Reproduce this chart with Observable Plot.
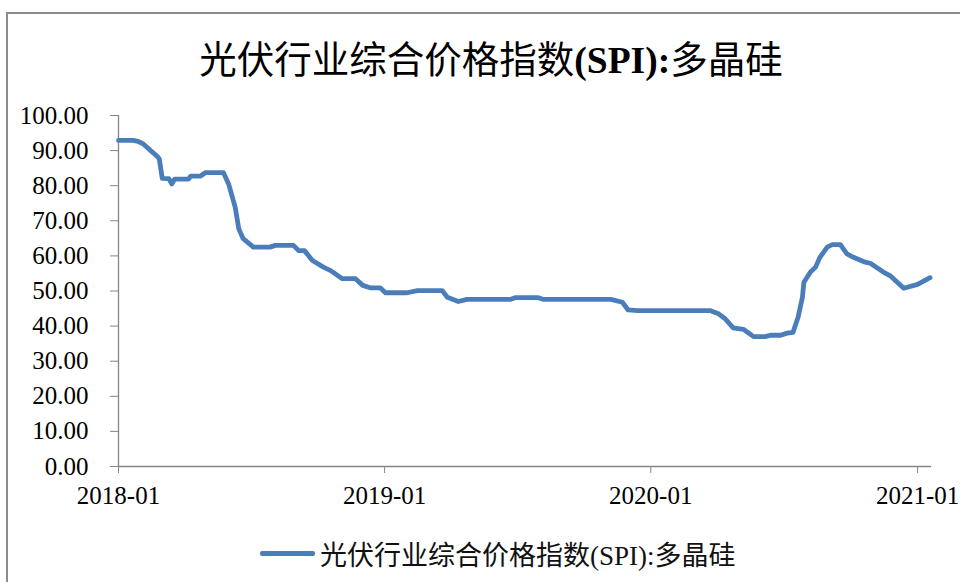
<!DOCTYPE html>
<html>
<head>
<meta charset="utf-8">
<script src="https://cdn.jsdelivr.net/npm/d3@7"></script>
<script src="https://cdn.jsdelivr.net/npm/@observablehq/plot@0.6"></script>
<style>
  html, body { margin: 0; padding: 0; background: #fff; }
  body { width: 960px; height: 582px; overflow: hidden; position: relative; }
  #frame { position: absolute; left: 6px; top: 12px; width: 1000px; height: 620px; border: 2px solid #8c8c8c; box-sizing: border-box; }
  #title { position: absolute; left: 0; top: 32px; width: 982px; text-align: center; font-family: "Noto Sans CJK SC", sans-serif; font-size: 37.5px; line-height: 50px; color: #000; }
  #title .lat { font-family: "Liberation Serif", serif; font-weight: bold; }
  #chart { position: absolute; left: 0; top: 100px; }
  #legend { position: absolute; left: 260px; top: 534px; height: 38px; display: flex; align-items: center; font-family: "Noto Sans CJK SC", sans-serif; font-size: 27px; color: #111; }
  #legend .sw { width: 55px; height: 5px; background: #4a7ebb; border-radius: 2px; margin-right: 5px; }
  #legend .lat { font-family: "Liberation Serif", serif; }
</style>
</head>
<body>
<div id="frame"></div>
<div id="title">光伏行业综合价格指数<span class="lat">(SPI):</span>多晶硅</div>
<div id="chart"></div>
<div id="legend"><div class="sw"></div><span>光伏行业综合价格指数<span class="lat">(SPI):</span>多晶硅</span></div>
<script>
const dates = ["2018-01-01","2018-01-21","2018-01-28","2018-02-04","2018-02-14","2018-02-23","2018-02-26","2018-03-02","2018-03-11","2018-03-15","2018-03-19","2018-04-07","2018-04-10","2018-04-23","2018-04-30","2018-05-25","2018-06-01","2018-06-10","2018-06-15","2018-06-21","2018-07-05","2018-07-28","2018-08-04","2018-08-29","2018-09-05","2018-09-13","2018-09-24","2018-10-09","2018-10-19","2018-11-04","2018-11-22","2018-12-02","2018-12-12","2018-12-26","2019-01-02","2019-02-01","2019-02-15","2019-03-21","2019-03-28","2019-04-12","2019-04-24","2019-06-22","2019-06-29","2019-07-31","2019-08-07","2019-11-07","2019-11-23","2019-12-01","2019-12-14","2020-03-23","2020-04-03","2020-04-12","2020-04-23","2020-05-07","2020-05-21","2020-06-06","2020-06-13","2020-06-27","2020-07-06","2020-07-14","2020-07-21","2020-07-27","2020-07-29","2020-08-07","2020-08-14","2020-08-20","2020-08-30","2020-09-06","2020-09-17","2020-09-26","2020-10-05","2020-10-21","2020-10-28","2020-11-15","2020-11-24","2020-12-13","2021-01-01","2021-01-18"];
const values = [92.9,92.9,92.6,91.9,90.0,88.4,87.6,82.1,82.0,80.5,81.9,81.9,82.7,82.7,83.7,83.7,80.5,73.9,67.7,64.9,62.5,62.5,63.0,63.0,61.5,61.5,58.7,56.8,55.8,53.5,53.5,51.6,50.9,50.9,49.5,49.5,50.1,50.1,48.2,47.0,47.6,47.6,48.1,48.1,47.6,47.6,46.8,44.6,44.4,44.4,43.5,42.1,39.5,39.1,37.0,37.0,37.4,37.4,38.0,38.2,42.5,48.2,52.5,55.4,56.8,59.6,62.5,63.2,63.2,60.6,59.6,58.2,57.9,55.4,54.4,50.8,51.9,53.8];
const yTicks = [0,10,20,30,40,50,60,70,80,90,100];
const xTickLabels = ["2018-01","2019-01","2020-01","2021-01"];
const xDomainLabels = ["2018-01-01","2021-01-20"];

const parse = d3.utcParse("%Y-%m-%d");
const parseM = d3.utcParse("%Y-%m");
const data = dates.map((d, i) => ({date: parse(d), value: values[i]}));
const xTicks = xTickLabels.map(parseM);
const xDomain = xDomainLabels.map(parse);
const axisColor = "#868686";
const fontLat = "Liberation Serif, serif";

const plot = Plot.plot({
  width: 960,
  height: 430,
  marginLeft: 118,
  marginRight: 29,
  marginTop: 15,
  marginBottom: 64,
  style: {fontFamily: fontLat, fontSize: "25px", color: "#000", background: "transparent", overflow: "visible"},
  x: {type: "utc", domain: xDomain},
  y: {domain: [0, 100]},
  marks: [
    Plot.axisY({ticks: yTicks, tickFormat: d => d.toFixed(2), tickSize: 8, tickPadding: 22, stroke: axisColor, fill: "#000", fontSize: 25, label: null}),
    Plot.axisX({ticks: xTicks, tickFormat: d3.utcFormat("%Y-%m"), tickSize: 7, tickPadding: 13, stroke: axisColor, fill: "#000", fontSize: 25, label: null}),
    Plot.ruleY([0], {stroke: axisColor, strokeWidth: 1.3}),
    Plot.ruleX([xDomain[0]], {y1: 0, y2: 100, stroke: axisColor, strokeWidth: 1.3}),
    Plot.line(data, {x: "date", y: "value", stroke: "#4a7ebb", strokeWidth: 4.8, strokeLinejoin: "round", strokeLinecap: "round"})
  ]
});
document.getElementById("chart").appendChild(plot);
</script>
</body>
</html>
